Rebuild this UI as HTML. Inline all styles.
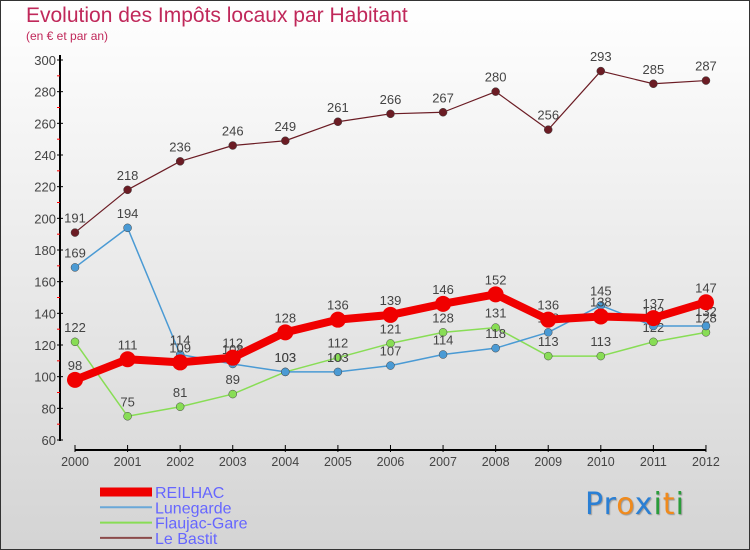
<!DOCTYPE html>
<html><head><meta charset="utf-8">
<style>
body{margin:0;}
#wrap{position:relative;width:748px;height:548px;border:1px solid #333;background:linear-gradient(#fff,#d4d4d4);font-family:"Liberation Sans",sans-serif;overflow:hidden}
.t{position:absolute;color:#c0285a}
</style></head><body>
<div id="wrap">
<div class="t" style="left:25px;top:3px;font-size:21px">Evolution des Impôts locaux par Habitant</div>
<div class="t" style="left:25px;top:28px;font-size:12px">(en € et par an)</div>
<svg id="c" width="750" height="550" style="position:absolute;left:-1px;top:-1px"></svg>
<div style="position:absolute;left:584px;top:486px;font-size:30px;letter-spacing:1px;font-family:'DejaVu Sans',sans-serif;text-shadow:1px 1px 1px #999"><span style="color:#2a7fd4">Pr</span><span style="color:#f08a1c">o</span><span style="color:#2a7fd4">x</span><span style="color:#2a9c3a">i</span><span style="color:#f08a1c">t</span><span style="color:#2a9c3a">i</span></div>
</div>
<script>
const years=[2000,2001,2002,2003,2004,2005,2006,2007,2008,2009,2010,2011,2012];
const reilhac=[98,111,109,112,128,136,139,146,152,136,138,137,147];
const lunegarde=[169,194,114,108,103,103,107,114,118,128,145,132,132];
const flaujac=[122,75,81,89,103,112,121,128,131,113,113,122,128];
const bastit=[191,218,236,246,249,261,266,267,280,256,293,285,287];
const yTicks=[60,80,100,120,140,160,180,200,220,240,260,280,300];
const svg=document.getElementById('c');const NS='http://www.w3.org/2000/svg';
const X=i=>75+i*52.58, Y=v=>440-(v-60)*380/240;
function mk(t,a,p){const e=document.createElementNS(NS,t);for(const k in a)e.setAttribute(k,a[k]);(p||svg).appendChild(e);return e;}
let ax=mk('line',{x1:60,y1:55,x2:60,y2:441,stroke:'#000','stroke-width':2});


yTicks.forEach((v,i)=>{mk('line',{x1:57,x2:63,y1:Y(v),y2:Y(v),stroke:'#000'});
 if(i<yTicks.length-1)mk('line',{x1:57,x2:60,y1:Y(v+10),y2:Y(v+10),stroke:'#f00'});
 const t=mk('text',{x:56,y:Y(v)+5,'text-anchor':'end','font-size':13,fill:'#444'});t.textContent=v;
 
 });
let xa=mk('line',{x1:75,y1:450,x2:706,y2:450,stroke:'#000','stroke-width':2});


years.forEach((y,i)=>{mk('line',{x1:X(i),x2:X(i),y1:445,y2:452,stroke:'#000'});
 const t=mk('text',{x:X(i),y:466,'text-anchor':'middle','font-size':12.5,fill:'#444'});t.textContent=y;
 
 });
function series(d,col,w,r,name){
 const g=mk('g',{});
 
 
 mk('polyline',{points:d.map((v,i)=>X(i)+','+Y(v)).join(' '),fill:'none',stroke:col,'stroke-width':w,'stroke-linejoin':'round'},g);
 d.forEach((v,i)=>{const c=mk('circle',{cx:X(i),cy:Y(v),r:r,fill:col,stroke:'#444','stroke-width':r>5?0:0.5},g);
  
  
  const t=mk('text',{x:X(i),y:Y(v)-10,'text-anchor':'middle','font-size':13,fill:'#444'},g);t.textContent=v;});
}
series(bastit,'#6b1c24',1.2,4,'le-bastit-series');
series(flaujac,'#88dd55',1.5,4,'flaujac-gare-series');
series(lunegarde,'#4a9ad4',1.5,4,'lunegarde-series');
series(reilhac,'#f00000',8,8,'reilhac-series');
const leg=[['REILHAC','#f00000',9],['Lunegarde','#6aa8d8',2],['Flaujac-Gare','#88dd55',2],['Le Bastit','#8b4a4a',2]];
leg.forEach((l,i)=>{const y=492+i*15.3;
 const g=mk('g',{});
 
 
 mk('line',{x1:100,x2:152,y1:y,y2:y,stroke:l[1],'stroke-width':l[2]},g);
 const t=mk('text',{x:155,y:y+6,'font-size':16,fill:'#6666ff'},g);t.textContent=l[0];});
</script>
</body></html>
